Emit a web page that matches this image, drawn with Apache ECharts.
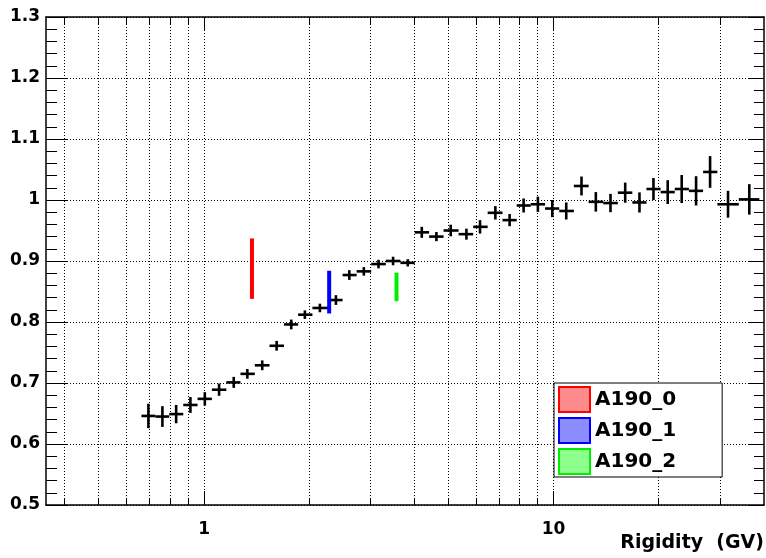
<!DOCTYPE html>
<html>
<head>
<meta charset="utf-8">
<title>Rigidity ratio</title>
<script src="https://cdn.jsdelivr.net/npm/echarts@6/dist/echarts.min.js"></script>
<style>
  html, body { margin: 0; padding: 0; background: #fff; }
  #chart { width: 766px; height: 558px; }
</style>
</head>
<body>
<div id="chart"></div>
<script>
// Bin centres (GV), bin edges (GV), measured ratio and its uncertainty
const rigidity = [0.693, 0.760, 0.832, 0.914, 1.005, 1.104, 1.216, 1.330, 1.467, 1.613,
                  1.776, 1.943, 2.145, 2.384, 2.604, 2.865, 3.156, 3.474, 3.827, 4.197,
                  4.622, 5.079, 5.631, 6.159, 6.815, 7.486, 8.209, 9.018, 9.915, 10.87,
                  12.02, 13.21, 14.55, 16.03, 17.61, 19.31, 21.21, 23.26, 25.57, 28.04,
                  31.56, 36.31];
const binEdges = [0.662, 0.726, 0.795, 0.872, 0.958, 1.053, 1.158, 1.271, 1.397, 1.539,
                  1.693, 1.858, 2.042, 2.261, 2.491, 2.732, 3.007, 3.311, 3.646, 4.007,
                  4.405, 4.845, 5.348, 5.888, 6.478, 7.143, 7.843, 8.603, 9.456, 10.38,
                  11.43, 12.60, 13.87, 15.27, 16.80, 18.44, 20.24, 22.22, 24.39, 26.78,
                  29.42, 33.88, 38.79];
const ratio = [0.646, 0.645, 0.649, 0.664, 0.674, 0.689, 0.701, 0.715, 0.729, 0.761,
               0.796, 0.812, 0.823, 0.836, 0.877, 0.883, 0.895, 0.900, 0.897, 0.947,
               0.940, 0.950, 0.944, 0.956, 0.979, 0.967, 0.991, 0.993, 0.986, 0.982,
               1.023, 0.997, 0.995, 1.012, 0.996, 1.018, 1.013, 1.018, 1.015, 1.046,
               0.993, 1.001];
const ratioErr = [0.020, 0.017, 0.015, 0.013, 0.011, 0.010, 0.009, 0.008, 0.008, 0.008,
                  0.008, 0.007, 0.007, 0.008, 0.008, 0.007, 0.007, 0.007, 0.006, 0.009,
                  0.0075, 0.0095, 0.009, 0.011, 0.011, 0.010, 0.0115, 0.0125, 0.014, 0.014,
                  0.0155, 0.016, 0.015, 0.0165, 0.0165, 0.018, 0.0195, 0.023, 0.024, 0.026,
                  0.022, 0.025];

// Reference ranges: [rigidity, low, high]
const bandNames = ['A190_0', 'A190_1', 'A190_2'];
const bandRanges = [[1.371, 0.838, 0.937],
                    [2.28, 0.814, 0.884],
                    [3.553, 0.834, 0.881]];
const bandColors = ['#ff0000', '#0000ff', '#00ee00'];
const bandFills = ['rgba(255,0,0,0.45)', 'rgba(0,0,255,0.45)', 'rgba(0,255,0,0.45)'];

// Log-axis decade and sub-decade positions
const majorXTicks = [1, 10];
const minorXTicks = [0.4, 0.5, 0.6, 0.7, 0.8, 0.9, 2, 3, 4, 5, 6, 7, 8, 9, 20, 30];

const X_MIN = 0.353, X_MAX = 40;
const Y_MIN = 0.5, Y_MAX = 1.3, Y_STEP = 0.1;
const X_TITLE = 'Rigidity  (GV)';

const FONT = 'DejaVu Sans';
const snap = v => Math.round(v - 0.5) + 0.5;

const chart = echarts.init(document.getElementById('chart'), null, { renderer: 'canvas' });

const xTickData = majorXTicks.map(v => [v, Y_MIN, 1]).concat(minorXTicks.map(v => [v, Y_MIN, 0]));
const pointData = rigidity.map((r, i) => [r, ratio[i], binEdges[i], binEdges[i + 1], ratioErr[i]]);

const bandSeries = bandNames.map((name, k) => ({
  name: name,
  type: 'custom',
  coordinateSystem: 'cartesian2d',
  xAxisIndex: 0, yAxisIndex: 0,
  z: 4,
  itemStyle: { color: bandColors[k] },
  data: [bandRanges[k]],
  encode: { x: 0, y: [1, 2] },
  renderItem: function (params, api) {
    const x = api.value(0);
    const p1 = api.coord([x, api.value(1)]);
    const p2 = api.coord([x, api.value(2)]);
    return {
      type: 'line',
      shape: { x1: p1[0], y1: p1[1], x2: p2[0], y2: p2[1] },
      style: { stroke: bandColors[k], lineWidth: 4 }
    };
  }
}));

const option = {
  backgroundColor: '#fff',
  animation: false,
  title: {
    text: X_TITLE, right: 2, top: 534, padding: 0,
    textStyle: { color: '#000', fontFamily: FONT, fontWeight: 'bold', fontSize: 19 }
  },
  grid: { left: 46, right: 2, top: 17, bottom: 53, containLabel: false },
  xAxis: [
    {
      type: 'log', logBase: 10, min: X_MIN, max: X_MAX, position: 'bottom',
      axisLine: { show: true, lineStyle: { color: '#000', width: 1.5 } },
      axisTick: { show: false },
      minorTick: { show: false },
      splitLine: { show: false },
      axisLabel: {
        margin: 16, color: '#000', fontFamily: FONT, fontWeight: 'bold', fontSize: 17,
        showMinLabel: false, showMaxLabel: false,
        formatter: function (v) {
          for (const m of majorXTicks) { if (Math.abs(v - m) < 1e-6 * m) return String(m); }
          return '';
        }
      }
    },
    {
      type: 'log', logBase: 10, min: X_MIN, max: X_MAX, position: 'top',
      axisLine: { show: true, lineStyle: { color: '#000', width: 1.5 } },
      axisTick: { show: false }, axisLabel: { show: false }, splitLine: { show: false }
    }
  ],
  yAxis: [
    {
      type: 'value', min: Y_MIN, max: Y_MAX, interval: Y_STEP, position: 'left',
      axisLine: { show: true, lineStyle: { color: '#000', width: 1.5 } },
      axisTick: { show: true, inside: true, length: 21, lineStyle: { color: '#000', width: 1 } },
      minorTick: { show: true, splitNumber: 5, length: 11, lineStyle: { color: '#000', width: 1 } },
      splitLine: { show: true, lineStyle: { color: '#000', width: 1, type: [1, 2] } },
      axisLabel: { margin: 6, color: '#000', fontFamily: FONT, fontWeight: 'bold', fontSize: 17 }
    },
    {
      type: 'value', min: Y_MIN, max: Y_MAX, interval: Y_STEP, position: 'right',
      axisLine: { show: true, lineStyle: { color: '#000', width: 1.5 } },
      axisTick: { show: true, inside: true, length: 15, lineStyle: { color: '#000', width: 1 } },
      minorTick: { show: true, splitNumber: 5, length: 10, lineStyle: { color: '#000', width: 1 } },
      splitLine: { show: false },
      axisLabel: { show: false }
    }
  ],
  legend: {
    orient: 'vertical', left: 554, top: 383,
    itemWidth: 31, itemHeight: 25, itemGap: 4,
    padding: [3, 46, 2, 4],
    backgroundColor: '#fff', borderColor: '#000', borderWidth: 1,
    selectedMode: false, icon: 'rect',
    textStyle: { color: '#000', fontFamily: FONT, fontWeight: 'bold', fontSize: 20 },
    data: bandNames.map((n, k) => ({
      name: n, icon: 'rect',
      itemStyle: { color: bandFills[k], borderColor: bandColors[k], borderWidth: 2 }
    }))
  },
  series: [
    {
      // vertical grid lines and ticks of the logarithmic axis (bottom and top)
      name: 'xgrid', type: 'custom', coordinateSystem: 'cartesian2d',
      xAxisIndex: 0, yAxisIndex: 0, z: 1, silent: true,
      data: xTickData, encode: { x: 0, y: 1 },
      renderItem: function (params, api) {
        const v = api.value(0);
        const major = api.value(2) === 1;
        const b = api.coord([v, Y_MIN]);
        const t = api.coord([v, Y_MAX]);
        const x = snap(b[0]);
        const lb = major ? 14 : 7, lt = major ? 14 : 8;
        return {
          type: 'group',
          children: [
            { type: 'line', shape: { x1: x, y1: b[1], x2: x, y2: t[1] },
              style: { stroke: '#000', lineWidth: 1, lineDash: [1, 2] } },
            { type: 'line', shape: { x1: x, y1: b[1], x2: x, y2: b[1] - lb },
              style: { stroke: '#000', lineWidth: 1 } },
            { type: 'line', shape: { x1: x, y1: t[1], x2: x, y2: t[1] + lt },
              style: { stroke: '#000', lineWidth: 1 } }
          ]
        };
      }
    },
    {
      // ratio points with bin-width and statistical error bars
      name: 'ratio', type: 'custom', coordinateSystem: 'cartesian2d',
      xAxisIndex: 0, yAxisIndex: 0, z: 3,
      data: pointData, encode: { x: 0, y: 1 },
      renderItem: function (params, api) {
        const x = api.value(0), y = api.value(1);
        const lo = api.value(2), hi = api.value(3), e = api.value(4);
        const pl = api.coord([lo, y]), pr = api.coord([hi, y]);
        const pt = api.coord([x, y + e]), pb = api.coord([x, y - e]);
        const st = { stroke: '#000', lineWidth: 2.6 };
        return {
          type: 'group',
          children: [
            { type: 'line', shape: { x1: pl[0], y1: pl[1], x2: pr[0], y2: pr[1] }, style: st },
            { type: 'line', shape: { x1: pt[0], y1: pt[1], x2: pb[0], y2: pb[1] }, style: st }
          ]
        };
      }
    }
  ].concat(bandSeries)
};

chart.setOption(option);
</script>
</body>
</html>
